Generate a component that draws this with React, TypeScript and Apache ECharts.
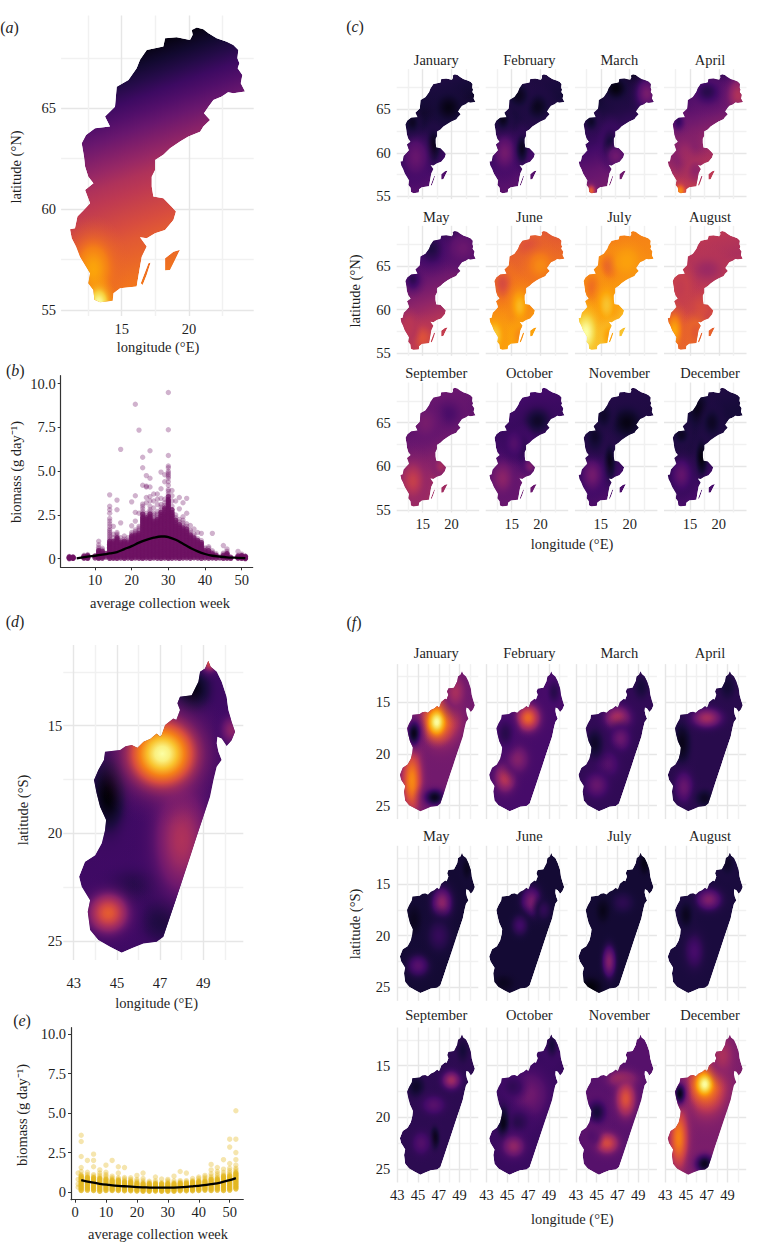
import React, { useEffect, useRef } from "react";
import * as echarts from "echarts";

const FONT = "'Liberation Serif', serif";
const MONTHS = ["January","February","March","April","May","June","July","August","September","October","November","December"];

const SWEDEN_MAIN: number[][] = [[20.2,68.88],[20.57,69],[21.06,68.92],[21.44,68.72],[22.05,68.47],[22.8,68.3],[23.29,68.14],[23.66,67.89],[23.59,67.48],[23.74,67.23],[23.61,66.98],[23.96,66.65],[23.84,66.24],[24.16,65.83],[23.29,65.74],[22.9,65.8],[22.43,65.58],[21.81,65.41],[21.44,65.08],[21.11,64.75],[21.56,64.42],[21.06,64.09],[20.82,63.84],[19.95,63.6],[19.33,63.35],[18.59,63.02],[18.09,62.69],[17.48,62.44],[17.48,61.94],[17.23,61.61],[17.23,61.12],[17.35,60.62],[18.09,60.54],[18.71,60.12],[19.03,59.88],[18.84,59.46],[18.22,58.97],[17.48,58.8],[16.86,58.55],[16.36,58.6],[16.86,58.14],[16.49,57.64],[16.36,57.15],
[18.22,57.56],[18.84,57.89],[19.33,57.98],[18.96,57.48],[18.59,56.98],[18.22,56.95],[18.22,57.56],[16.36,57.15],
[16.98,57.31],[17.15,57.35],[16.86,56.74],[16.56,56.24],[16.41,56.32],[16.98,57.31],[16.36,57.15],
[16.11,56.16],[14.88,56.07],[14.38,55.83],[14.33,55.46],[13.39,55.38],[12.97,55.5],[12.9,55.99],[12.52,56.32],[12.65,56.82],[11.91,57.64],[11.61,58.14],[11.29,58.55],[11.16,59],[11.53,59.05],[11.71,59.63],[12.15,59.93],[12.65,60.29],[12.28,60.95],[12.9,61.28],[12.52,61.61],[12.28,62.11],[12.2,62.6],[12.03,63.26],[12.35,63.68],[13.02,64.01],[14.13,64.09],[13.76,64.59],[14.5,65.08],[14.63,66.07],[15.5,66.4],[16.11,66.98],[16.36,67.4],[16.86,67.89],[18.09,68.06],[18.22,68.47],[19.08,68.52],[20.07,68.39],[20.27,68.64]];

const MADAGASCAR: number[][] = [[49.23,11.98],[49.34,12.26],[49.62,12.49],[49.85,12.96],[50.08,13.65],[50.16,14.27],[50.31,14.81],[50.47,15.28],[50.31,15.67],[50.08,15.94],[49.85,15.59],[49.65,15.51],[49.62,15.82],[49.7,16.21],[49.85,16.59],[49.62,16.9],[49.47,17.52],[49.31,18.3],[49,19.23],[48.69,20.15],[48.39,21.08],[48.08,22.01],[47.77,22.94],[47.46,23.87],[47.15,24.8],[46.84,25.03],[46.23,25.11],[45.69,25.34],[45.22,25.54],[44.68,25.26],[44.14,24.95],[43.76,24.49],[43.65,23.64],[43.76,23.1],[43.37,22.48],[43.25,22.01],[43.52,21.32],[43.99,21.01],[44.3,20.46],[44.45,19.85],[44.5,19.38],[44.22,18.76],[44.06,18.14],[43.94,17.52],[44.14,17.06],[44.4,16.59],[44.45,16.21],[45.15,16.13],[45.4,15.95],[45.69,15.9],[45.95,16.02],[46.23,15.74],[46.55,15.6],[46.84,15.36],[47.0,15.5],[47.07,15.43],[47.23,14.97],[47.61,14.66],[47.75,14.72],[47.92,14.27],[47.8,13.95],[47.92,13.65],[48.46,13.58],[48.77,12.96],[48.85,12.49],[49.08,12.34]];

// Biomass surface, panel (a): values along the north-to-south ramp, then hot/cold patches.
const SWEDEN_RAMP_START = [17.85, 68.22];
const SWEDEN_RAMP_END = [23.74, 57.35];
const SW_ANNUAL_RAMP = [0.03, 0.24, 0.47, 0.62, 0.72];
const SW_ANNUAL_PATCH = [[12.9, 57, 0.8, 0.8, 0.8, 0.66], [13.3, 55.3, 0.42, 0.45, 1.0, 0.8]];

const SW_RAMPS = [
  [0.12, 0.08, 0.12, 0.2, 0.26],
  [0.12, 0.1, 0.14, 0.22, 0.27],
  [0.06, 0.12, 0.18, 0.28, 0.34],
  [0.16, 0.28, 0.38, 0.46, 0.55],
  [0.14, 0.26, 0.36, 0.48, 0.56],
  [0.6, 0.66, 0.72, 0.78, 0.8],
  [0.72, 0.74, 0.78, 0.84, 0.88],
  [0.5, 0.46, 0.52, 0.62, 0.66],
  [0.3, 0.27, 0.33, 0.42, 0.44],
  [0.2, 0.18, 0.2, 0.3, 0.3],
  [0.13, 0.12, 0.13, 0.2, 0.24],
  [0.12, 0.1, 0.12, 0.2, 0.22],
];
const SW_PATCHES: number[][][] = [
  [[16.8,60.8,0.7,1.1,0.03,0.15],[13.8,59.5,1.2,1.2,0.29,0.2],[19.5,65.2,1.3,0.9,0.03,0.12],[13.2,63.5,0.7,0.6,0.06,0.13]],
  [[13.8,60,1.1,1.1,0.32,0.2],[16.8,60.5,0.6,1.0,0.05,0.18],[19.5,65.3,1.2,0.9,0.05,0.14],[13.5,63.8,0.7,0.6,0.05,0.14],[16.2,66.6,1.0,0.8,0.05,0.13]],
  [[17.6,67.4,1.2,0.8,0.02,0.14],[23,66.8,1.1,1.0,0.33,0.16],[16.6,61,0.8,1.1,0.1,0.2],[13.3,63.6,0.7,0.6,0.07,0.16],[13.3,55.6,0.5,0.45,0.64,0.33],[17.6,59.6,0.8,0.6,0.31,0.24]],
  [[18,67,1.5,0.9,0.14,0.28],[23.4,66.6,1.1,1.1,0.47,0.3],[13,63.6,0.7,0.7,0.17,0.32],[14.2,60,1.2,1.0,0.42,0.34],[13.3,55.6,0.6,0.5,0.74,0.5],[16,58,1.0,0.8,0.39,0.48]],
  [[16.5,67,1.3,1.0,0.12,0.22],[13.3,63.5,0.8,0.7,0.15,0.26],[22,67,1.4,1.0,0.3,0.24],[15,56.7,1.2,0.9,0.6,0.48],[12.6,57.8,0.7,0.8,0.5,0.48]],
  [[18,67.3,1.7,0.9,0.6,0.66],[20,65,1.2,0.9,0.74,0.68],[13.4,63,1.0,1.0,0.58,0.7],[16.4,60.4,0.9,1.1,0.84,0.72],[12,57,0.9,1.0,0.88,0.76],[16.5,57,0.8,0.8,0.74,0.8]],
  [[16.5,65,1.0,0.9,0.64,0.76],[19.5,65.5,1.2,0.9,0.79,0.76],[13.4,62.6,0.9,1.0,0.68,0.76],[16,60.5,0.9,1.1,0.86,0.76],[12.4,57.4,1.1,1.3,1.0,0.82],[16.6,57,0.8,0.8,0.78,0.85]],
  [[18,64.6,1.8,0.9,0.42,0.5],[13.2,62.5,1.0,1.1,0.52,0.54],[17,60,1.0,0.8,0.58,0.54],[12.3,57.6,0.8,1.1,0.8,0.64],[16,57.4,0.8,0.8,0.62,0.66]],
  [[19.5,66,1.5,1.0,0.22,0.3],[13.3,58.3,1.2,1.2,0.53,0.38],[18.2,60,0.7,0.6,0.44,0.34],[15.5,65,1.2,1.0,0.33,0.28]],
  [[19.5,65.2,1.4,0.9,0.07,0.18],[17,62,0.7,1.0,0.15,0.2],[13.4,58.6,1.2,1.1,0.38,0.26],[18.2,60,0.6,0.5,0.34,0.22],[15.4,62.6,0.8,0.8,0.24,0.18]],
  [[19.5,65,1.5,1.0,0.03,0.13],[16.5,60.5,0.6,1.2,0.04,0.15],[13.5,59,1.1,1.1,0.32,0.18],[14,63.5,0.9,1.0,0.07,0.14],[15.5,65.8,0.8,0.8,0.07,0.13]],
  [[16.5,66.5,1.0,1.1,0.04,0.12],[17,61,0.6,1.2,0.02,0.14],[18.8,65,0.9,0.9,0.06,0.13],[13.5,59,1.1,1.1,0.28,0.15],[13.5,63.6,0.8,0.6,0.06,0.14]],
];

const MG_ANNUAL_BASE = 0.19;
const MG_ANNUAL_PATCH = [[46,22.6,1.0,0.6,0.12,0.2],[47.2,24,0.7,0.7,0.09,0.2],[44.6,18.2,0.5,1.1,0,0.2],[48.5,13.3,0.55,0.65,0.03,0.2],[48,20.3,0.8,1.6,0.47,0.2],[47.1,16.3,1.0,1.0,1,0.3],[44.6,23.7,0.6,0.6,0.63,0.2],[49.3,12,0.25,0.3,0.6,0.2],[50.3,15.2,0.3,0.4,0.38,0.2]];
const MG_BASES = [0.32, 0.21, 0.16, 0.14, 0.09, 0.09, 0.09, 0.11, 0.15, 0.18, 0.25, 0.34];
const MG_PATCHES: number[][][] = [
  [[47.2,16.4,1.2,1.7,0.68,0.32],[46.8,16.9,0.55,0.8,1,0.62],[44.4,22.6,0.65,2.0,0.74,0.32],[44.6,18,0.4,0.75,0.04,0.3],[46.6,24.2,0.65,0.55,0.05,0.32],[48.6,14,0.6,1.0,0.45,0.3]],
  [[47,16.5,0.75,0.85,0.66,0.22],[44.8,22.3,0.65,0.9,0.5,0.22],[46,20.5,0.65,0.8,0.36,0.22],[44.8,18,0.5,0.8,0.14,0.22],[49.5,14,0.4,0.7,0.14,0.22]],
  [[47,16.5,0.8,0.75,0.46,0.17],[47.3,18.5,0.55,0.7,0.3,0.17],[46,21,0.65,0.75,0.25,0.17],[45,23,0.65,0.7,0.29,0.17],[44.8,19,0.55,0.9,0.07,0.17],[49.3,13.5,0.5,0.8,0.1,0.17]],
  [[44.6,19,0.55,1.3,0.04,0.15],[47,16.5,0.9,0.6,0.44,0.15],[44.8,23.2,0.55,0.9,0.29,0.15],[46.8,24.3,0.55,0.55,0.06,0.15],[49,13.5,0.5,0.8,0.09,0.15]],
  [[47.3,16.8,0.6,0.9,0.38,0.11],[45,22.9,0.65,0.65,0.25,0.1],[44.6,18.5,0.5,1.0,0.05,0.1],[47,20,0.65,0.9,0.17,0.1],[49.7,13.5,0.3,0.65,0.05,0.1]],
  [[47.3,16.7,0.6,0.9,0.33,0.1],[46.2,19,0.5,0.65,0.2,0.09],[48.5,17.5,0.4,0.55,0.16,0.1],[44.6,24.6,0.65,0.5,0.05,0.09]],
  [[46.2,22.5,0.42,1.0,0.36,0.09],[44.4,25,0.65,0.55,0.01,0.08],[47.5,16.8,0.7,0.65,0.15,0.09],[45.6,17.6,0.4,0.7,0.04,0.09],[49.6,13,0.3,0.65,0.03,0.09]],
  [[47.2,16.5,0.75,0.65,0.35,0.12],[45.8,21.5,0.55,1.0,0.21,0.12],[45,18,0.4,0.75,0.05,0.12],[49,13,0.4,0.65,0.07,0.12]],
  [[48.2,16.4,0.55,0.55,0.43,0.16],[46.6,22,0.3,0.7,0.03,0.16],[44.8,17,0.55,0.7,0.07,0.16],[45.3,22.5,0.5,0.65,0.24,0.16],[46.5,18.8,0.65,0.55,0.25,0.16],[49.3,13.5,0.4,0.8,0.1,0.16]],
  [[47.2,17.8,1.0,1.3,0.31,0.2],[46,20.5,0.65,0.65,0.14,0.2],[44.6,20.5,0.36,1.0,0.04,0.18],[45.6,22.8,0.65,0.65,0.39,0.2],[45.5,17,0.55,0.55,0.16,0.2],[49.3,13,0.36,0.75,0.1,0.2]],
  [[45,19.5,0.65,0.8,0.1,0.28],[47.5,16.3,0.8,0.5,0.52,0.28],[47.8,18.2,0.6,1.1,0.6,0.28],[46,22.5,0.7,0.65,0.57,0.27],[44.5,21.8,0.4,0.5,0.24,0.27]],
  [[47,17,1.2,1.7,0.7,0.36],[46.8,16.8,0.55,0.72,1,0.64],[44.3,22,0.6,1.9,0.72,0.36],[46.8,24.5,0.65,0.65,0.05,0.36],[44.4,17.7,0.36,0.65,0.04,0.34],[48.5,14,0.6,1.0,0.46,0.36]],
];

const SWEDEN_WEEKS = [3,4,7,8,10,11,12,13,14,15,16,17,18,19,20,21,22,23,24,25,26,27,28,29,30,31,32,33,34,35,36,37,38,39,40,41,42,43,44,45,46,47,49,50,51];
const SWEDEN_CORE = [0.12,0.12,0.15,0.18,0.15,0.5,0.45,0.3,1.0,1.0,1.2,1.0,1.0,1.0,1.3,1.4,1.5,2.6,2.4,2.6,2.2,2.3,2.7,3.0,3.6,2.9,2.3,2.0,1.8,1.7,1.4,1.2,1.1,1.0,0.5,0.5,0.35,0.25,0.1,0.25,0.3,0.1,0.15,0.2,0.14];
const SWEDEN_BIOMASS: number[][] = [
  [0.01,0.04,0.07,0.1,0.13],
  [0.02,0.06,0.1,0.04],
  [0.03,0.08,0.14,0.2],
  [0.02,0.07,0.12,0.18,0.24],
  [0.05,0.15],
  [0.02,0.08,0.15,0.22,0.3,0.38,0.46,0.55,0.65,0.8,1.0],
  [0.03,0.1,0.16,0.24,0.32,0.42,0.5,0.6],
  [0.1,0.2,0.3],
  [0.02,0.1,0.18,0.26,0.34,0.42,0.5,0.58,0.66,0.74,0.82,0.9,1,1.1,1.2,1.3,1.4,1.5,1.6,1.7,1.85,2,2.15,2.3,2.6,2.8,3,3.65],
  [0.03,0.1,0.2,0.3,0.4,0.5,0.6,0.7,0.8,0.9,1,1.2,1.4,1.85],
  [0.02,0.1,0.2,0.3,0.4,0.5,0.6,0.7,0.8,0.9,1,1.1,1.2,1.3,1.4,1.5,2.8,3.35],
  [0.04,0.14,0.24,0.34,0.44,0.54,0.64,0.74,0.84,0.94,1.04,1.2,2.05,6.25],
  [0.02,0.1,0.2,0.3,0.4,0.5,0.6,0.7,0.8,0.9,1,1.12,1.3],
  [0.04,0.14,0.24,0.34,0.44,0.54,0.64,0.74,0.84,0.94,1.06,1.2],
  [0.02,0.1,0.2,0.3,0.4,0.5,0.6,0.7,0.8,0.9,1,1.1,1.2,1.3,1.4,1.5,1.88,3.25],
  [0.05,0.15,0.25,0.35,0.45,0.55,0.65,0.75,0.85,0.95,1.05,1.15,1.25,1.35,1.45,1.55,1.65,2.15,2.65,3.6,8.83],
  [0.03,0.13,0.23,0.33,0.43,0.53,0.63,0.73,0.83,0.93,1.03,1.13,1.23,1.33,1.43,1.53,1.63,1.75,1.85,2.6,7.35],
  [0.02,0.1,0.2,0.3,0.4,0.5,0.6,0.7,0.8,0.9,1,1.1,1.2,1.3,1.4,1.5,1.6,1.7,1.8,1.9,2,2.1,2.2,2.3,2.4,2.55,2.7,2.85,3,3.12,4.2,5.2,5.8],
  [0.04,0.14,0.24,0.34,0.44,0.54,0.64,0.74,0.84,0.94,1.04,1.14,1.24,1.34,1.44,1.54,1.64,1.74,1.84,1.94,2.04,2.14,2.24,2.34,2.45,2.6,3.2,3.5,4.1,4.15,4.75],
  [0.02,0.12,0.22,0.32,0.42,0.52,0.62,0.72,0.82,0.92,1.02,1.12,1.22,1.32,1.42,1.52,1.62,1.72,1.82,1.92,2.02,2.12,2.22,2.32,2.42,2.55,2.7,2.8,3.0,3.3,3.55,4.1,4.6,6.17],
  [0.05,0.15,0.25,0.35,0.45,0.55,0.65,0.75,0.85,0.95,1.05,1.15,1.25,1.35,1.45,1.55,1.65,1.75,1.85,1.95,2.05,2.15,2.25,2.35,2.5,2.6,2.9,3.3,3.7],
  [0.03,0.13,0.23,0.33,0.43,0.53,0.63,0.73,0.83,0.93,1.03,1.13,1.23,1.33,1.43,1.53,1.63,1.73,1.83,1.93,2.03,2.13,2.23,2.33,2.43,2.55,2.7,3.1,3.4,3.7],
  [0.02,0.12,0.22,0.32,0.42,0.52,0.62,0.72,0.82,0.92,1.02,1.12,1.22,1.32,1.42,1.52,1.62,1.72,1.82,1.92,2.02,2.12,2.22,2.32,2.42,2.52,2.65,2.8,2.95,3.1,3.45,4,4.95],
  [0.04,0.14,0.24,0.34,0.44,0.54,0.64,0.74,0.84,0.94,1.04,1.14,1.24,1.34,1.44,1.54,1.64,1.74,1.84,1.94,2.04,2.14,2.24,2.34,2.44,2.54,2.64,2.78,2.9,3.05,3.2,3.4,4.4,4.8],
  [0.02,0.1,0.2,0.3,0.4,0.5,0.6,0.7,0.8,0.9,1,1.1,1.2,1.3,1.4,1.5,1.6,1.7,1.8,1.9,2,2.1,2.2,2.3,2.4,2.5,2.6,2.7,2.8,2.9,3,3.1,3.2,3.3,3.4,3.55,3.7,3.85,3.95,4.2,4.4,4.6,4.7,4.8,4.9,5,5.2,5.3,5.9,7.37,9.5],
  [0.03,0.13,0.23,0.33,0.43,0.53,0.63,0.73,0.83,0.93,1.03,1.13,1.23,1.33,1.43,1.53,1.63,1.73,1.83,1.93,2.03,2.13,2.23,2.33,2.43,2.53,2.65,2.8,3,3.3,3.6,3.9],
  [0.04,0.14,0.24,0.34,0.44,0.54,0.64,0.74,0.84,0.94,1.04,1.14,1.24,1.34,1.44,1.54,1.64,1.74,1.84,1.94,2.06,2.2,2.35,2.5,3.3],
  [0.02,0.12,0.22,0.32,0.42,0.52,0.62,0.72,0.82,0.92,1.02,1.12,1.22,1.32,1.42,1.52,1.62,1.72,1.82,1.95,2.1,2.25,2.85,3.5],
  [0.04,0.14,0.24,0.34,0.44,0.54,0.64,0.74,0.84,0.94,1.04,1.14,1.24,1.34,1.44,1.54,1.64,1.76,1.9,2.05,2.2,2.4,3.2],
  [0.05,0.15,0.25,0.35,0.45,0.55,0.65,0.75,0.85,0.95,1.05,1.15,1.25,1.35,1.45,1.55,1.7,1.85,2,2.6,3.45],
  [0.03,0.13,0.23,0.33,0.43,0.53,0.63,0.73,0.83,0.93,1.03,1.13,1.23,1.35,1.5,1.62,1.9],
  [0.06,0.16,0.26,0.36,0.46,0.56,0.66,0.76,0.86,0.96,1.06,1.18,1.3,1.42,1.7],
  [0.04,0.14,0.24,0.34,0.44,0.54,0.64,0.74,0.84,0.94,1.04,1.15,1.5],
  [0.02,0.12,0.22,0.32,0.42,0.52,0.62,0.72,0.82,0.92,1.03,1.45],
  [0.05,0.15,0.25,0.35,0.45,0.55,0.62],
  [0.03,0.13,0.23,0.33,0.45,0.6,0.68],
  [0.04,0.12,0.2,0.28,0.36,0.45,1.45],
  [0.03,0.12,0.2,0.3],
  [0.05,0.12],
  [0.02,0.1,0.18,0.26,0.32,0.75],
  [0.03,0.09,0.15,0.22,0.3,0.42,0.55],
  [0.02,0.08],
  [0.03,0.08,0.14,0.2,0.42],
  [0.02,0.07,0.13,0.18,0.26],
  [0.01,0.05,0.1,0.14,0.04],
];
const SWEDEN_CURVE = [[5,0.02],[8,0.12],[10,0.17],[12,0.23],[14,0.3],[16,0.38],[18,0.55],[20,0.72],[22,0.92],[24,1.08],[26,1.2],[28,1.27],[29,1.27],[30,1.24],[32,1.08],[34,0.85],[36,0.62],[38,0.42],[40,0.27],[42,0.17],[44,0.12],[46,0.08],[48,0.06],[51,0.03]];

const MG_WEEKS = [1,2,4,6,8,10,12,14,16,18,20,22,24,26,28,30,32,34,36,38,40,42,44,46,48,50,52];
const MG_CORE = [0,1,0.95,0.9,0.85,0.85,0.8,0.75,0.7,0.65,0.6,0.55,0.55,0.55,0.55,0.55,0.55,0.6,0.6,0.65,0.7,0.75,0.8,0.9,1,1.1,1.25];
const MG_BIOMASS: number[][] = [
  [0.3,0.5,0.8,1.2],
  [0.1,0.2,0.3,0.4,0.5,0.6,0.7,0.8,0.9,1,1.1,1.3,1.55,2.25,3.2,3.6],
  [0.12,0.22,0.32,0.42,0.52,0.62,0.72,0.82,0.92,1,1.1,1.25,2],
  [0.1,0.2,0.3,0.4,0.5,0.6,0.7,0.8,0.9,1,1.1,1.6,2,2.4],
  [0.05,0.15,0.25,0.35,0.45,0.55,0.65,0.75,0.85,0.95,1.05,1.2,1.4],
  [0.1,0.2,0.3,0.4,0.5,0.6,0.7,0.8,0.9,1,1.1,1.25,1.7],
  [0.1,0.18,0.26,0.34,0.42,0.5,0.58,0.66,0.74,0.82,0.9,1,2],
  [0.1,0.18,0.26,0.34,0.42,0.5,0.58,0.66,0.74,0.82,0.9,1.2,1.6],
  [0.08,0.16,0.24,0.32,0.4,0.48,0.56,0.64,0.72,0.82,0.92,1.55],
  [0.08,0.16,0.24,0.32,0.4,0.48,0.56,0.64,0.72,0.8,0.9],
  [0.06,0.14,0.22,0.3,0.38,0.46,0.54,0.62,0.7,0.8,1.05],
  [0.05,0.12,0.2,0.28,0.36,0.44,0.52,0.6,0.7,0.85,1.2],
  [0.05,0.12,0.2,0.28,0.36,0.44,0.52,0.6,0.68],
  [0.06,0.13,0.2,0.28,0.36,0.44,0.52,0.6,0.7,0.95],
  [0.05,0.12,0.2,0.28,0.36,0.44,0.52,0.6,0.82],
  [0.05,0.12,0.2,0.28,0.36,0.44,0.52,0.6,0.7,0.8],
  [0.05,0.12,0.2,0.28,0.36,0.44,0.52,0.6,0.7,1],
  [0.08,0.16,0.24,0.32,0.4,0.48,0.56,0.64,0.72,1.3],
  [0.08,0.16,0.24,0.32,0.4,0.48,0.56,0.64,0.72,1.2],
  [0.08,0.16,0.24,0.32,0.4,0.48,0.56,0.64,0.72,0.85],
  [0.1,0.18,0.26,0.34,0.42,0.5,0.58,0.66,0.74,0.85,0.95],
  [0.12,0.2,0.28,0.36,0.44,0.52,0.6,0.68,0.76,0.85,0.95,1.05],
  [0.1,0.2,0.3,0.4,0.5,0.6,0.7,0.8,0.9,1,1.15,1.4,1.75],
  [0.12,0.22,0.32,0.42,0.52,0.62,0.72,0.82,0.92,1.02,1.15,1.3,1.55],
  [0.1,0.2,0.3,0.4,0.5,0.6,0.7,0.8,0.9,1,1.1,1.25,1.45,2.05],
  [0.12,0.22,0.32,0.42,0.52,0.62,0.72,0.82,0.92,1.02,1.12,1.22,1.35,1.5,1.8,2.85,3.35],
  [0.2,0.3,0.4,0.5,0.6,0.7,0.8,0.9,1,1.1,1.2,1.3,1.4,1.5,1.7,2.05,2.5,3.35,5.15],
];
const MG_CURVE = [[2,0.75],[5,0.62],[8,0.52],[11,0.45],[14,0.39],[17,0.35],[20,0.31],[23,0.29],[26,0.27],[29,0.27],[32,0.28],[35,0.31],[38,0.36],[41,0.42],[44,0.5],[47,0.6],[50,0.75],[52,0.88]];

const INFERNO = ["#000004","#160b39","#420a68","#6a176e","#932667","#bb3754","#dd513a","#f3771a","#fca50a","#f6d746","#fcffa4"];
const hex = (h: string) => [1, 3, 5].map((i) => parseInt(h.slice(i, i + 2), 16));
function inferno(t: number, alpha = 1) {
  const v = Math.max(0, Math.min(1, t)) * 10;
  const i = Math.min(9, Math.floor(v));
  const a = hex(INFERNO[i]), b = hex(INFERNO[i + 1]);
  const c = a.map((x, k) => Math.round(x + (b[k] - x) * (v - i)));
  return `rgba(${c[0]},${c[1]},${c[2]},${alpha})`;
}
const BLOB_SCALE = 3.4;
function blobFill(v: number, edge: number) {
  const colorStops = [0, 0.1, 0.2, 0.3, 0.4, 0.5, 0.6, 0.7, 0.8, 0.9, 1].map((o) => {
    const f = Math.exp(-Math.pow(o / 0.42, 2));
    const a = Math.pow(Math.min(1, (1 - o) / 0.6), 1.5);
    return { offset: o, color: inferno(edge + (v - edge) * f, Number(a.toFixed(3))) };
  });
  return new echarts.graphic.RadialGradient(0.5, 0.5, 0.5, colorStops);
}
function rampFill(api: any, ramp: number[]) {
  const s = api.coord(SWEDEN_RAMP_START), e = api.coord(SWEDEN_RAMP_END);
  const colorStops: any[] = [];
  for (let i = 0; i < ramp.length - 1; i++) {
    for (let j = 0; j < 4; j++) {
      const f = j / 4;
      colorStops.push({ offset: (i + f) / (ramp.length - 1), color: inferno(ramp[i] + (ramp[i + 1] - ramp[i]) * f) });
    }
  }
  colorStops.push({ offset: 1, color: inferno(ramp[ramp.length - 1]) });
  return new echarts.graphic.LinearGradient(s[0], s[1], e[0], e[1], colorStops, true);
}
function mapRender(outline: number[][], fill: (api: any) => any, patches: number[][]) {
  return (_p: any, api: any) => {
    const points = outline.map((p) => api.coord(p));
    const children: any[] = [{ type: "polygon", shape: { points }, style: { fill: fill(api) } }];
    patches.forEach(([lon, lat, rx, ry, v, edge]) => {
      const c = api.coord([lon, lat]);
      const ex = api.coord([lon + rx * BLOB_SCALE, lat]);
      const ey = api.coord([lon, lat + ry * BLOB_SCALE]);
      children.push({
        type: "ellipse",
        shape: { cx: c[0], cy: c[1], rx: Math.abs(ex[0] - c[0]), ry: Math.abs(ey[1] - c[1]) },
        style: { fill: blobFill(v, edge) },
      });
    });
    return { type: "group", clipPath: { type: "polygon", shape: { points } }, children };
  };
}

const LABEL = { fontFamily: FONT, fontSize: 14.5, color: "#1f1f1f" };
const GRID_COLORS = ["#f1f1f1", "#e6e6e6"];

function buildOption() {
  const grid: any[] = [], xAxis: any[] = [], yAxis: any[] = [], series: any[] = [];
  const addMap = (p: {
    left: number; top: number; width: number; height: number; lon: number[]; lat: number[];
    xMajor: number[]; xAll: number[]; yMajor: number[]; yAll: number[]; showX: boolean; showY: boolean;
    inverse: boolean; outline: number[][]; fill: (api: any) => any; patches: number[][]; xMargin: number; yMargin: number; xColors: string[]; yColors: string[];
  }) => {
    const i = grid.length;
    grid.push({ left: p.left, top: p.top, width: p.width, height: p.height, containLabel: false });
    xAxis.push({
      type: "value", gridIndex: i, min: p.lon[0], max: p.lon[1],
      axisLine: { show: false, onZero: false }, axisTick: { show: false, customValues: p.xAll },
      axisLabel: { show: p.showX, customValues: p.xMajor, margin: p.xMargin, ...LABEL, hideOverlap: false, showMinLabel: true, showMaxLabel: true },
      splitLine: { show: true, lineStyle: { color: p.xColors, width: 1.4 } },
    });
    yAxis.push({
      type: "value", gridIndex: i, min: p.lat[0], max: p.lat[1], inverse: p.inverse,
      axisLine: { show: false, onZero: false }, axisTick: { show: false, customValues: p.yAll },
      axisLabel: { show: p.showY, customValues: p.yMajor, margin: p.yMargin, ...LABEL, hideOverlap: false },
      splitLine: { show: true, lineStyle: { color: p.yColors, width: 1.4 } },
    });
    series.push({
      type: "custom", coordinateSystem: "cartesian2d", xAxisIndex: i, yAxisIndex: i, clip: false, silent: true,
      encode: { x: 0, y: 1 }, data: [p.outline[0]], renderItem: mapRender(p.outline, p.fill, p.patches),
    });
  };

  const swX = { xMajor: [15, 20], xAll: [12.5, 15, 17.5, 20, 22.5], yMajor: [55, 60, 65], yAll: [55, 57.5, 60, 62.5, 65, 67.5], xColors: GRID_COLORS, yColors: ["#e6e6e6", "#f1f1f1"] };
  addMap({ ...swX, left: 61.1, top: 15.5, width: 192.6, height: 300.5, lon: [10.5, 24.8], lat: [54.7, 69.6], showX: true, showY: true, inverse: false, outline: SWEDEN_MAIN, fill: (a) => rampFill(a, SW_ANNUAL_RAMP), patches: SW_ANNUAL_PATCH, xMargin: 5, yMargin: 5 });
  const cTops = [69.1, 225.8, 382.5], cLefts = [396.7, 485.7, 574.9, 664];
  MONTHS.forEach((_, m) => {
    const r = Math.floor(m / 4), c = m % 4;
    addMap({ ...swX, left: cLefts[c], top: cTops[r], width: 82.5, height: 130, lon: [10.5, 24.8], lat: [54.7, 69.6], showX: r === 2, showY: c === 0, inverse: false, outline: SWEDEN_MAIN, fill: (a) => rampFill(a, SW_RAMPS[m]), patches: SW_PATCHES[m], xMargin: 4, yMargin: 6 });
  });

  const mgX = { xMajor: [43, 45, 47, 49], xAll: [43, 44, 45, 46, 47, 48, 49, 50], yMajor: [15, 20, 25], yAll: [12.5, 15, 17.5, 20, 22.5, 25], xColors: ["#e6e6e6", "#f1f1f1"], yColors: ["#f1f1f1", "#e6e6e6"] };
  addMap({ ...mgX, left: 63.3, top: 645, width: 180, height: 315, lon: [42.52, 50.85], lat: [11.25, 25.88], showX: true, showY: true, inverse: true, outline: MADAGASCAR, fill: () => inferno(MG_ANNUAL_BASE), patches: MG_ANNUAL_PATCH, xMargin: 15, yMargin: 1 });
  const fTops = [664.1, 845.8, 1027.5], fLefts = [397.3, 486.6, 575.9, 665.2];
  MONTHS.forEach((_, m) => {
    const r = Math.floor(m / 4), c = m % 4;
    addMap({ ...mgX, left: fLefts[c], top: fTops[r], width: 81, height: 155, lon: [43, 50.8], lat: [11.3, 26.3], showX: r === 2, showY: c === 0, inverse: true, outline: MADAGASCAR, fill: () => inferno(MG_BASES[m]), patches: MG_PATCHES[m], xMargin: 4.5, yMargin: 7 });
  });

  const addScatter = (p: { left: number; top: number; width: number; height: number; x: number[]; y: number[]; xTicks: number[]; weeks: number[]; values: number[][]; core: number[]; curve: number[][]; color: string; opacity: number; coreOpacity: number; }) => {
    const i = grid.length;
    grid.push({ left: p.left, top: p.top, width: p.width, height: p.height });
    const axisLine = { show: true, onZero: false, lineStyle: { color: "#333", width: 1.2 } };
    const axisTick = { show: true, length: 3, lineStyle: { color: "#333", width: 1 } };
    xAxis.push({ type: "value", gridIndex: i, min: p.x[0], max: p.x[1], splitLine: { show: false }, axisLine, axisTick: { ...axisTick, customValues: p.xTicks }, axisLabel: { customValues: p.xTicks, margin: 5, ...LABEL, hideOverlap: false } });
    const yTicks = [0, 2.5, 5, 7.5, 10];
    yAxis.push({ type: "value", gridIndex: i, min: p.y[0], max: p.y[1], splitLine: { show: false }, axisLine, axisTick: { ...axisTick, customValues: yTicks }, axisLabel: { customValues: yTicks, margin: 5, ...LABEL, hideOverlap: false, formatter: (v: number) => (v === 0 ? "0" : v.toFixed(1)) } });
    const pts: number[][] = [];
    const corePts: number[][] = [];
    p.weeks.forEach((w, k) => p.values[k].forEach((v) => { pts.push([w, v]); if (v <= p.core[k]) corePts.push([w, v]); }));
    series.push({ type: "scatter", xAxisIndex: i, yAxisIndex: i, data: pts, symbolSize: 5.4, silent: true, clip: false, itemStyle: { color: p.color, opacity: p.opacity } });
    series.push({ type: "scatter", xAxisIndex: i, yAxisIndex: i, data: corePts, symbolSize: 5.4, silent: true, clip: false, itemStyle: { color: p.color, opacity: p.coreOpacity } });
    series.push({ type: "line", xAxisIndex: i, yAxisIndex: i, data: p.curve, smooth: 0.4, showSymbol: false, silent: true, lineStyle: { color: "#000", width: 2.3 } });
  };
  addScatter({ left: 60.7, top: 375.7, width: 192, height: 191.6, x: [0.65, 53], y: [-0.49, 10.46], xTicks: [10, 20, 30, 40, 50], weeks: SWEDEN_WEEKS, values: SWEDEN_BIOMASS, core: SWEDEN_CORE, curve: SWEDEN_CURVE, color: "#6d1163", opacity: 0.32, coreOpacity: 0.7 });
  addScatter({ left: 71, top: 1027.7, width: 172.3, height: 172, x: [-1.3, 54.4], y: [-0.49, 10.42], xTicks: [0, 10, 20, 30, 40, 50], weeks: MG_WEEKS, values: MG_BIOMASS, core: MG_CORE, curve: MG_CURVE, color: "#e2b71f", opacity: 0.36, coreOpacity: 0.7 });

  const txt = (text: string, x: number, y: number, rotated = false) => ({
    type: "text", x, y, rotation: rotated ? Math.PI / 2 : 0, silent: true,
    style: { text, fontFamily: FONT, fontSize: 14.5, fill: "#1f1f1f", align: "center", verticalAlign: "middle" },
  });
  const tag = (letter: string, x: number, y: number) => ({
    type: "text", x, y, silent: true,
    style: { text: `({i|${letter}})`, fontFamily: FONT, fontSize: 16, fill: "#1f1f1f", align: "center", verticalAlign: "middle", rich: { i: { fontStyle: "italic", fontFamily: FONT, fontSize: 16, fill: "#1f1f1f" } } },
  });
  const titleX = [436.3, 529.3, 619.3, 710];
  const graphic: any[] = [
    tag("a", 9.5, 27), tag("b", 15.3, 370), tag("c", 355, 26), tag("d", 15, 621), tag("e", 22, 1020), tag("f", 354, 622),
    txt("longitude (°E)", 158, 347), txt("latitude (°N)", 16, 167, true),
    txt("average collection week", 160, 603), txt("biomass (g day⁻¹)", 15.7, 472, true),
    txt("latitude (°N)", 355, 291, true), txt("longitude (°E)", 572, 544),
    txt("latitude (°S)", 22.7, 810, true), txt("longitude (°E)", 156.7, 1003),
    txt("average collection week", 158, 1234), txt("biomass (g day⁻¹)", 22.3, 1115, true),
    txt("latitude (°S)", 355, 924, true), txt("longitude (°E)", 572.3, 1219),
  ];
  const cY = [60, 217, 372.7], fY = [652.7, 835.7, 1015];
  MONTHS.forEach((name, m) => {
    const r = Math.floor(m / 4), c = m % 4;
    graphic.push(txt(name, titleX[c], cY[r]));
    graphic.push(txt(name, titleX[c], fY[r]));
  });

  return { animation: false, backgroundColor: "#ffffff", textStyle: { fontFamily: FONT }, grid, xAxis, yAxis, series, graphic };
}

export default function App() {
  const ref = useRef<HTMLDivElement>(null);
  useEffect(() => {
    document.body.style.margin = "0";
    const chart = echarts.init(ref.current!, undefined, { renderer: "svg" });
    chart.setOption(buildOption() as any);
    return () => chart.dispose();
  }, []);
  return <div ref={ref} style={{ width: 759, height: 1242 }} />;
}
